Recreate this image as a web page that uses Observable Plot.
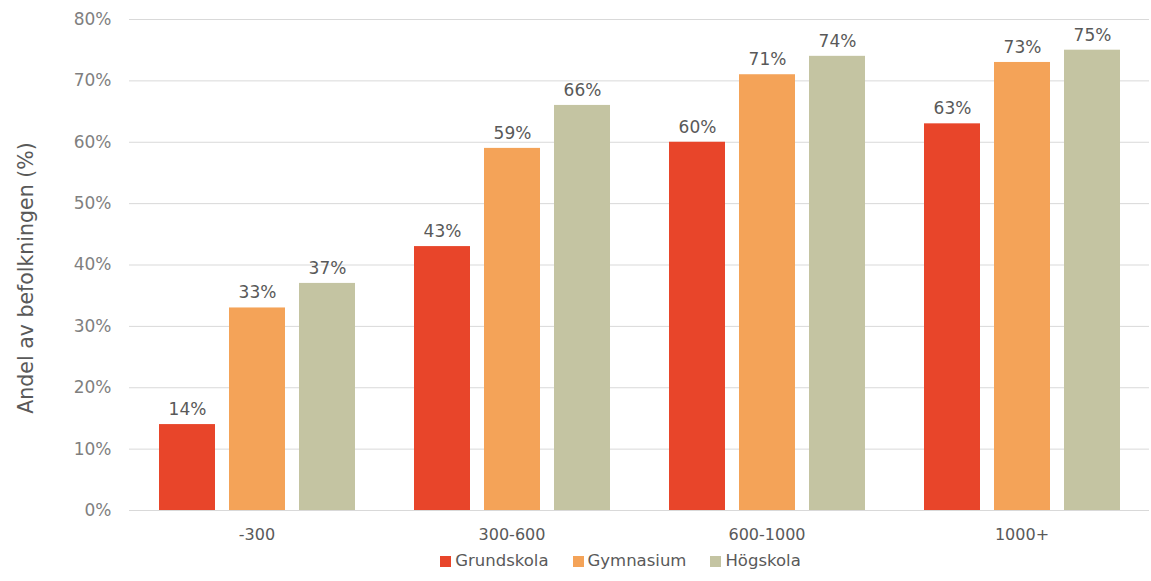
<!DOCTYPE html>
<html><head><meta charset="utf-8">
<script src="https://cdn.jsdelivr.net/npm/d3@7"></script>
<script src="https://cdn.jsdelivr.net/npm/@observablehq/plot@0.6"></script>
<style>
body{margin:0;background:#fff;font-family:"DejaVu Sans",sans-serif;}
#legend{display:flex;justify-content:center;gap:24px;font-size:16.5px;color:#595959;margin-top:1px;padding-left:90px}
#legend span.sw{display:inline-block;width:11px;height:11px;margin-right:4px;vertical-align:-1px}
</style></head>
<body><div id="chart"></div><div id="legend"></div>
<script>
const groups = ["-300", "300-600", "600-1000", "1000+"];
const series = ["Grundskola", "Gymnasium", "Högskola"];
const colors = ["#e8452a", "#f4a358", "#c4c4a2"];
const grundskola = [14, 43, 60, 63];
const gymnasium = [33, 59, 71, 73];
const hogskola = [37, 66, 74, 75];
const yTicks = [0, 10, 20, 30, 40, 50, 60, 70, 80];
const yLabel = "Andel av befolkningen (%)";

const vals = [grundskola, gymnasium, hogskola];
const data = [];
groups.forEach((g, i) => series.forEach((s, j) => data.push({group: g, series: s, value: vals[j][i]})));

const chart = Plot.plot({
  width: 1151, height: 550,
  marginLeft: 128, marginRight: 1, marginTop: 19, marginBottom: 40,
  style: {fontFamily: "DejaVu Sans, sans-serif", fontSize: "16px", color: "#7f7f7f"},
  fx: {domain: groups, padding: 0, label: null},
  x: {domain: series, paddingInner: 0.2, paddingOuter: 0.42, axis: null},
  y: {domain: [0, 80], ticks: yTicks, label: null},
  color: {domain: series, range: colors},
  marks: [
    Plot.gridY(yTicks, {stroke: "#d9d9d9", strokeOpacity: 1}),
    Plot.axisY(yTicks, {tickSize: 0, tickPadding: 18, tickFormat: d => d + "%", fontSize: 17, fill: "#7f7f7f", label: null}),
    Plot.text([{group: groups[0], t: yLabel}], {fx: "group", text: "t", frameAnchor: "left", textAnchor: "middle", lineAnchor: "middle", rotate: -90, dx: -103, dy: 13, fontSize: 20.5, fill: "#595959"}),
    Plot.axisFx({anchor: "bottom", tickSize: 0, tickPadding: 18, fontSize: 16, fill: "#595959", label: null}),
    Plot.barY(data, {fx: "group", x: "series", y: "value", fill: "series"}),
    Plot.text(data, {fx: "group", x: "series", y: "value", text: d => d.value + "%", dy: -15, fontSize: 17, fill: "#595959"})
  ]
});
document.getElementById("chart").appendChild(chart);

const leg = document.getElementById("legend");
series.forEach((s, i) => {
  const el = document.createElement("div");
  el.innerHTML = `<span class="sw" style="background:${colors[i]}"></span>${s}`;
  leg.appendChild(el);
});
</script></body></html>
